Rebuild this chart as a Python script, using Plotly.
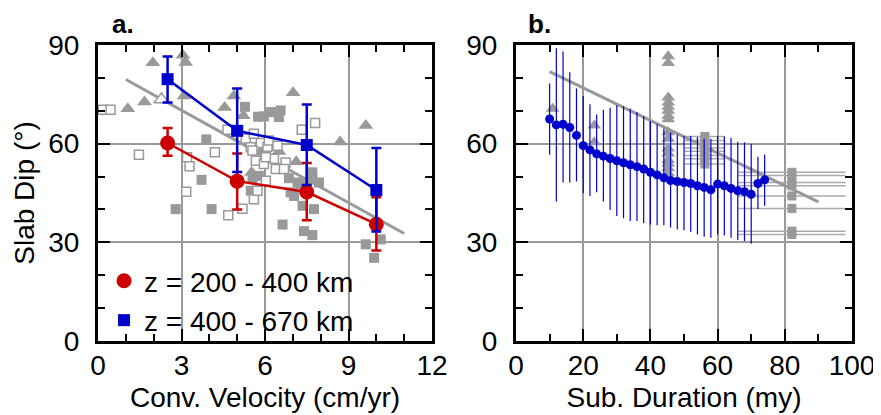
import plotly.graph_objects as go

# ---------------- Panel a data ----------------
vel_bins = [2.5, 5, 7.5, 10]
dip_200_400 = [60.2, 48.6, 45.3, 35.5]
dip_200_400_hi = [64.8, 57.0, 54.1, 43.7]
dip_200_400_lo = [56.3, 40.0, 36.7, 27.5]
dip_400_670 = [79.6, 63.9, 59.6, 45.9]
dip_400_670_hi = [86.5, 76.8, 71.9, 58.7]
dip_400_670_lo = [72.5, 51.4, 47.4, 33.3]

fit_a_x = [1, 11]
fit_a_y = [79.5, 32.7]

tri_a_x = [1.07, 1.67, 1.97, 3.05, 3.15, 3.09, 4.55, 4.88, 5.22, 7.01, 9.62, 8.70, 5.85, 6.50, 7.12, 5.52]
tri_a_y = [70.6, 72.7, 84.6, 86.9, 84.7, 74.5, 71.0, 74.5, 68.5, 75.5, 65.5, 60.5, 57.4, 57.6, 54.5, 51.2]
otri_a_x = [2.28]
otri_a_y = [73.4]
sq_a_x = [5.28, 5.75, 5.96, 6.21, 6.56, 6.50, 3.89, 3.72, 2.79, 4.08, 5.49, 5.78, 5.55, 6.86, 7.17, 7.70,
          7.94, 6.92, 7.04, 7.35, 7.76, 6.63, 7.40, 7.70, 9.62, 10.16, 9.92, 7.28, 7.70]
sq_a_y = [71.2, 68.2, 68.3, 69.6, 70.1, 68.1, 61.3, 49.0, 40.1, 40.1, 45.7, 50.2, 49.2, 49.5, 48.2, 49.2,
          48.2, 45.2, 44.1, 41.1, 40.1, 35.4, 33.4, 32.2, 29.4, 30.9, 25.3, 47.7, 51.3]
osq_a_x = [0.17, 0.45, 1.47, 4.20, 4.65, 5.31, 5.60, 5.49, 5.85, 6.09, 6.14, 6.45, 6.32, 6.74, 5.67, 5.96,
           6.03, 6.39, 6.03, 7.32, 7.80, 3.20, 3.29, 3.17, 4.68, 5.19, 5.60, 5.73, 5.55, 6.68]
osq_a_y = [70.3, 70.3, 56.6, 57.4, 64.2, 61.5, 63.0, 58.9, 60.2, 59.1, 61.0, 59.4, 55.4, 54.3, 54.8, 53.8,
           55.9, 52.3, 48.7, 64.2, 66.3, 55.9, 53.1, 45.4, 38.2, 40.2, 43.1, 45.7, 57.9, 52.3]

# ---------------- Panel b data ----------------
duration = [10, 12, 14, 16, 18, 20, 22, 24, 26, 28, 30, 32, 34, 36, 38, 40, 42,
            44, 46, 48, 50, 52, 54, 56, 58, 60, 62, 64, 66, 68, 70, 72, 74]
dip_dur = [67.5, 65.7, 65.9, 64.9, 62.5, 59.4, 58.1, 56.9, 56.2, 55.5, 54.8, 54.2, 53.6, 53.0, 52.3, 51.3, 50.5,
           49.6, 48.8, 48.5, 48.2, 47.9, 47.2, 46.7, 46.0, 47.7, 47.2, 46.4, 45.7, 45.4, 44.6, 47.9, 49.0]
dip_dur_hi = [78.3, 89.0, 88.0, 81.7, 76.8, 74.5, 72.0, 68.9, 70.3, 70.9, 71.7, 71.4, 70.6, 69.6, 68.3, 66.9, 66.0,
              64.5, 63.3, 62.8, 62.3, 62.3, 62.0, 61.5, 61.5, 62.3, 62.2, 61.8, 60.6, 60.4, 59.9, 56.0, 56.7]
dip_dur_lo = [56.6, 42.4, 48.2, 48.2, 48.5, 44.9, 44.1, 45.2, 42.4, 39.8, 38.0, 37.3, 36.5, 36.5, 35.8, 35.4, 35.2,
              35.2, 34.5, 33.9, 33.7, 33.2, 32.4, 31.7, 31.4, 32.4, 32.1, 31.4, 30.7, 30.4, 29.6, 40.1, 41.1]

fit_b_x = [10, 90]
fit_b_y = [81.9, 42.3]

tri_b_x = [10.9, 23.3, 23.3] + [45.3] * 16
tri_b_y = [70.6, 65.5, 60.4, 86.6, 84.5, 74.0, 72.5, 71.2, 70.0, 68.5, 67.4,
           63.5, 61.5, 58.5, 57.0, 55.0, 54.0, 52.5, 51.0]
sq_b1_x = [56.2] * 8
sq_b1_y = [62.2, 61.0, 59.9, 58.7, 57.7, 56.4, 55.4, 53.8]
sq_b1_err = [6] * 8
sq_b2_x = [82.1] * 8
sq_b2_y = [51.3, 50.3, 48.2, 47.2, 44.1, 40.3, 33.4, 32.4]
sq_b2_err = [16] * 8

RED = "#CC0000"
BLUE = "#0000CC"
GRAY = "#999999"
FONT = "Liberation Sans, Arial, Helvetica, sans-serif"
FS = 28

fig = go.Figure()

# ---- panel a ----
fig.add_trace(go.Scatter(x=fit_a_x, y=fit_a_y, mode="lines", line=dict(color=GRAY, width=3),
                         showlegend=False, xaxis="x", yaxis="y"))
fig.add_trace(go.Scatter(x=tri_a_x, y=tri_a_y, mode="markers",
                         marker=dict(symbol="triangle-up", size=13, color=GRAY),
                         showlegend=False, xaxis="x", yaxis="y"))
fig.add_trace(go.Scatter(x=otri_a_x, y=otri_a_y, mode="markers",
                         marker=dict(symbol="triangle-up", size=13, color="white", line=dict(color=GRAY, width=1.5)),
                         showlegend=False, xaxis="x", yaxis="y"))
fig.add_trace(go.Scatter(x=sq_a_x, y=sq_a_y, mode="markers",
                         marker=dict(symbol="square", size=10, color=GRAY),
                         showlegend=False, xaxis="x", yaxis="y"))
fig.add_trace(go.Scatter(x=osq_a_x, y=osq_a_y, mode="markers",
                         marker=dict(symbol="square", size=9, color="white", line=dict(color=GRAY, width=1.5)),
                         showlegend=False, xaxis="x", yaxis="y"))

# connecting lines (no legend), then markers + error bars (legend)
fig.add_trace(go.Scatter(x=vel_bins, y=dip_200_400, mode="lines", line=dict(color=RED, width=2.5),
                         showlegend=False, xaxis="x", yaxis="y"))
fig.add_trace(go.Scatter(
    x=vel_bins, y=dip_200_400, mode="markers", name="z = 200 - 400 km",
    marker=dict(symbol="circle", size=15, color=RED),
    error_y=dict(type="data", symmetric=False,
                 array=[h - v for h, v in zip(dip_200_400_hi, dip_200_400)],
                 arrayminus=[v - l for l, v in zip(dip_200_400_lo, dip_200_400)],
                 color=RED, thickness=2.5, width=5),
    xaxis="x", yaxis="y"))
fig.add_trace(go.Scatter(x=vel_bins, y=dip_400_670, mode="lines", line=dict(color=BLUE, width=2.5),
                         showlegend=False, xaxis="x", yaxis="y"))
fig.add_trace(go.Scatter(
    x=vel_bins, y=dip_400_670, mode="markers", name="z = 400 - 670 km",
    marker=dict(symbol="square", size=12, color=BLUE),
    error_y=dict(type="data", symmetric=False,
                 array=[h - v for h, v in zip(dip_400_670_hi, dip_400_670)],
                 arrayminus=[v - l for l, v in zip(dip_400_670_lo, dip_400_670)],
                 color=BLUE, thickness=2.5, width=5),
    xaxis="x", yaxis="y"))

# ---- panel b ----
fig.add_trace(go.Scatter(x=tri_b_x, y=tri_b_y, mode="markers",
                         marker=dict(symbol="triangle-up", size=12, color=GRAY),
                         showlegend=False, xaxis="x2", yaxis="y2"))
fig.add_trace(go.Scatter(x=sq_b1_x, y=sq_b1_y, mode="markers",
                         marker=dict(symbol="square", size=9, color=GRAY),
                         error_x=dict(type="data", array=sq_b1_err, color="#AAAAAA", thickness=1.5, width=0),
                         showlegend=False, xaxis="x2", yaxis="y2"))
fig.add_trace(go.Scatter(x=sq_b2_x, y=sq_b2_y, mode="markers",
                         marker=dict(symbol="square", size=9, color=GRAY),
                         error_x=dict(type="data", array=sq_b2_err, color="#AAAAAA", thickness=1.5, width=0),
                         showlegend=False, xaxis="x2", yaxis="y2"))
fig.add_trace(go.Scatter(x=fit_b_x, y=fit_b_y, mode="lines", line=dict(color=GRAY, width=3),
                         showlegend=False, xaxis="x2", yaxis="y2"))
fig.add_trace(go.Scatter(
    x=duration, y=dip_dur, mode="markers",
    marker=dict(symbol="circle", size=9, color=BLUE),
    error_y=dict(type="data", symmetric=False,
                 array=[h - v for h, v in zip(dip_dur_hi, dip_dur)],
                 arrayminus=[v - l for l, v in zip(dip_dur_lo, dip_dur)],
                 color=BLUE, thickness=1.2, width=0),
    showlegend=False, xaxis="x2", yaxis="y2"))


def axis(**kw):
    base = dict(showline=True, linewidth=3, linecolor="black", mirror="ticks",
                ticks="inside", ticklen=12, tickwidth=2, tickcolor="black",
                showgrid=True, gridcolor=GRAY, gridwidth=1.5, zeroline=False,
                automargin=False,
                tickfont=dict(size=FS, color="black", family=FONT),
                minor=dict(ticks="inside", ticklen=7, tickwidth=2, tickcolor="black", showgrid=False))
    base.update(kw)
    return base


fig.update_layout(
    width=873, height=407,
    margin=dict(l=90, r=29, t=37, b=74, autoexpand=False),
    plot_bgcolor="white", paper_bgcolor="white",
    font=dict(family=FONT, color="black"),
    xaxis=axis(domain=[0, 0.443], range=[0, 12], tickvals=[0, 3, 6, 9, 12],
               minor_dtick=1, anchor="y", ticklabelstandoff=-3,
               title=dict(text="Conv. Velocity (cm/yr)", font=dict(size=FS), standoff=8)),
    yaxis=axis(range=[0, 90], tickvals=[0, 30, 60, 90], minor_dtick=10, anchor="x",
               ticklabelstandoff=10,
               title=dict(text="Slab Dip (°)", font=dict(size=FS), standoff=6)),
    xaxis2=axis(domain=[0.5544, 1], range=[0, 100], tickvals=[0, 20, 40, 60, 80, 100],
                minor_dtick=10, anchor="y2", ticklabelstandoff=-3,
                title=dict(text="Sub. Duration (my)", font=dict(size=FS), standoff=8)),
    yaxis2=axis(range=[0, 90], tickvals=[0, 30, 60, 90], minor_dtick=10, anchor="x2",
                ticklabelstandoff=10),
    legend=dict(x=0.008, y=0.287, xanchor="left", yanchor="top", bgcolor="rgba(0,0,0,0)",
                font=dict(size=FS, color="black")),
    annotations=[
        dict(text="<b>a.</b>", xref="paper", yref="paper", x=0.017, y=1.125, xanchor="left",
             yanchor="top", showarrow=False, font=dict(size=26), borderpad=0),
        dict(text="<b>b.</b>", xref="paper", yref="paper", x=0.569, y=1.125, xanchor="left",
             yanchor="top", showarrow=False, font=dict(size=26), borderpad=0),
    ],
)

fig.write_html("out.html")
